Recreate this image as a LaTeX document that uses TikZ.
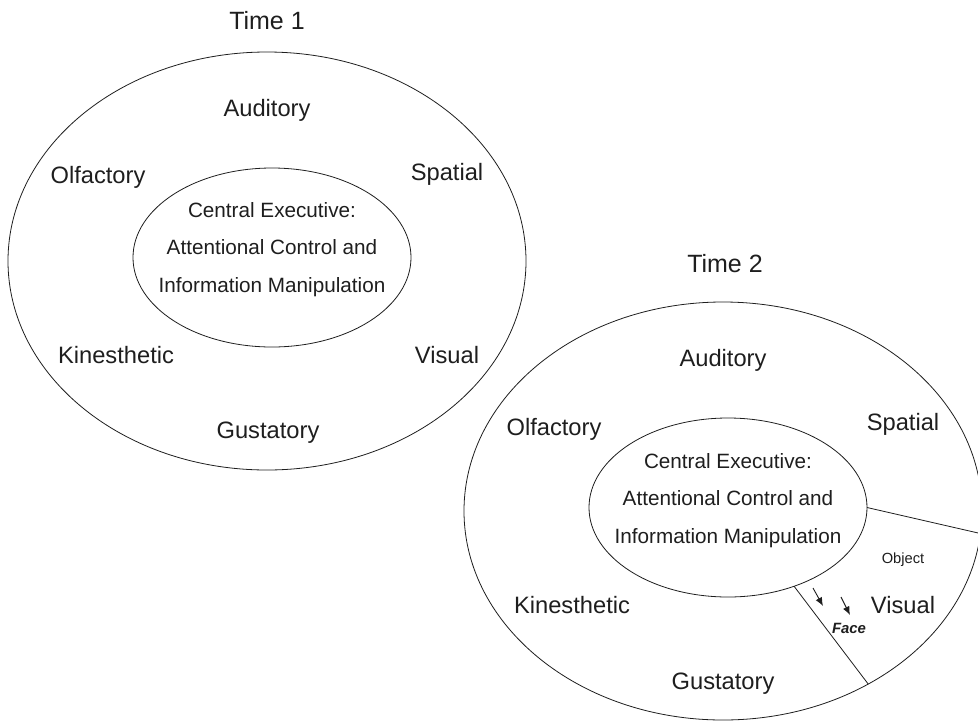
\documentclass[tikz,border=0pt]{standalone}
\usepackage{fontspec}
\setmainfont{Liberation Sans}
\usetikzlibrary{shapes.geometric,arrows.meta}
\definecolor{ink}{HTML}{1E1E1E}
\tikzset{
  outerell/.style={draw=ink,line width=0.8pt,ellipse,inner sep=0pt,outer sep=0pt,minimum width=518pt,minimum height=418pt},
  innerell/.style={draw=ink,line width=0.8pt,ellipse,inner sep=0pt,outer sep=0pt,minimum width=278pt,minimum height=179pt},
  lbl/.style={text=ink,inner sep=0pt,font=\fontsize{23.7}{28}\selectfont,text height=17pt,text depth=0pt},
  ttl/.style={text=ink,inner sep=0pt,font=\fontsize{25}{30}\selectfont,text height=17.9pt,text depth=0pt},
  celine/.style={text=ink,inner sep=0pt,font=\fontsize{20.7}{25}\selectfont,text height=14.8pt,text depth=0pt},
  small/.style={text=ink,inner sep=0pt,font=\fontsize{14.7}{18}\selectfont,text height=10.5pt,text depth=0pt},
  divider/.style={draw=ink,line width=0.8pt},
  pointer/.style={draw=ink,line width=0.9pt,-{Latex[length=8.5pt,width=7pt]}}
}
\begin{document}
\begin{tikzpicture}[x=1pt,y=-1pt]
\useasboundingbox (0,0) rectangle (978,721);
\clip (0,0) rectangle (978,721);
% ---------- Time 1 ----------
\node[ttl] (t1title) at (267,20.5) {Time 1};
\node[outerell] (out1) at (267,261) {};
\node[innerell] (in1) at (272,257.5) {};
\node[lbl] (t1aud) at (267,108) {Auditory};
\node[lbl] (t1olf) at (98,175) {Olfactory};
\node[lbl] (t1spa) at (447,172) {Spatial};
\node[lbl] (t1kin) at (116,355) {Kinesthetic};
\node[lbl] (t1vis) at (447,355) {Visual};
\node[lbl] (t1gus) at (268,430) {Gustatory};
\node[celine] (t1ce1) at (272,210) {Central Executive:};
\node[celine] (t1ce2) at (272,247) {Attentional Control and};
\node[celine] (t1ce3) at (272,285) {Information Manipulation};
% ---------- Time 2 ----------
\node[ttl] (t2title) at (725,264) {Time 2};
\node[outerell] (out2) at (723,511) {};
\node[innerell] (in2) at (728,507.5) {};
\node[lbl] (t2aud) at (723,358) {Auditory};
\node[lbl] (t2olf) at (554,427) {Olfactory};
\node[lbl] (t2spa) at (903,422) {Spatial};
\node[lbl] (t2kin) at (572,605) {Kinesthetic};
\node[lbl] (t2vis) at (903,605) {Visual};
\node[lbl] (t2gus) at (723,681) {Gustatory};
\node[celine] (t2ce1) at (728,461) {Central Executive:};
\node[celine] (t2ce2) at (728,498) {Attentional Control and};
\node[celine] (t2ce3) at (728,536) {Information Manipulation};
\node[small] (obj) at (903,558) {Object};
\node[small,font=\fontsize{14.9}{18}\selectfont\bfseries\itshape,text height=10.7pt] (face) at (849,628) {Face};
\draw[divider] (in2.east) -- (out2.-5);
\draw[divider] (in2.-50) -- (out2.-50.5);
\coordinate (a1s) at (813,588);
\coordinate (a1e) at (823,606);
\coordinate (a2s) at (841,597);
\coordinate (a2e) at (850,615);
\draw[pointer] (a1s) -- (a1e);
\draw[pointer] (a2s) -- (a2e);
\end{tikzpicture}
\end{document}
